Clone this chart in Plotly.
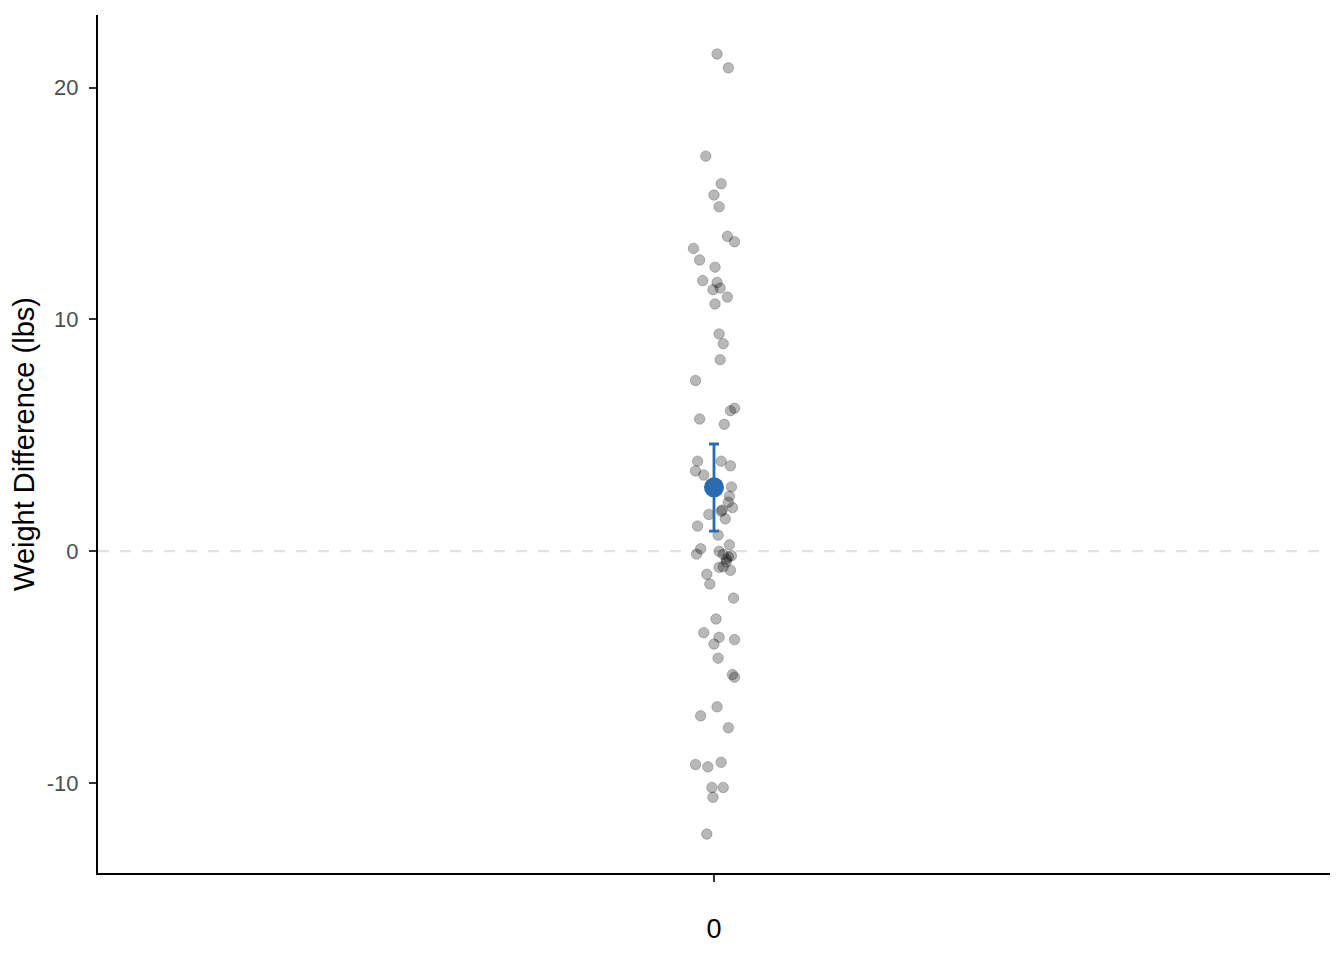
import plotly.graph_objects as go

# weight differences (lbs), with the horizontal jitter of each point
weight_diff = [
    21.45, 20.85, 17.04, 15.85, 15.36, 14.86, 13.58, 13.35, 13.06, 12.56,
    12.25, 11.67, 11.59, 11.35, 11.28, 10.96, 10.66, 9.37, 8.95, 8.26,
    7.36, 6.06, 6.16, 5.70, 5.47, 3.88, 3.88, 3.68, 3.46, 3.28,
    2.77, 2.37, 2.11, 1.88, 1.77, 1.72, 1.58, 1.39, 1.08, 0.69,
    0.27, 0.10, -0.13, -0.01, -0.14, -0.25, -0.20, -0.35, -0.46, -0.70,
    -0.68, -0.83, -1.00, -1.42, -2.03, -2.93, -3.52, -3.72, -4.01, -3.82,
    -4.62, -5.33, -5.44, -6.72, -7.11, -7.62, -9.21, -9.31, -9.11, -10.20,
    -10.20, -10.62, -12.21,
]
jitter = [
    0.003, 0.014, -0.008, 0.007, 0.000, 0.005, 0.013, 0.020, -0.020, -0.014,
    0.001, -0.011, 0.003, 0.006, -0.001, 0.013, 0.001, 0.005, 0.009, 0.006,
    -0.018, 0.016, 0.020, -0.014, 0.010, -0.016, 0.007, 0.016, -0.018, -0.010,
    0.017, 0.015, 0.014, 0.018, 0.008, 0.007, -0.005, 0.011, -0.016, 0.004,
    0.015, -0.013, -0.017, 0.005, 0.009, 0.014, 0.017, 0.012, 0.012, 0.005,
    0.009, 0.016, -0.007, -0.004, 0.019, 0.002, -0.010, 0.005, 0.000, 0.020,
    0.004, 0.018, 0.020, 0.003, -0.013, 0.014, -0.018, -0.006, 0.007, -0.002,
    0.009, -0.001, -0.007,
]

group = [0]
mean_diff = [2.75]
ci_low = [0.86]
ci_high = [4.62]

y_ticks = [-10, 0, 10, 20]
y_tick_labels = ["-10", "0", "10", "20"]

blue = "#2b6cb0"

fig = go.Figure()

fig.add_hline(y=0, line=dict(color="#e3e3e3", width=2.2, dash="11px,11px"), layer="below")

fig.add_trace(go.Scatter(
    x=[group[0] + j for j in jitter], y=weight_diff,
    mode="markers",
    marker=dict(size=10.5, color="rgba(0,0,0,0.28)",
                line=dict(color="rgba(0,0,0,0.22)", width=1)),
    hoverinfo="y", showlegend=False,
))

fig.add_trace(go.Scatter(
    x=group, y=mean_diff,
    mode="markers",
    marker=dict(size=20, color=blue),
    error_y=dict(type="data", symmetric=False,
                 array=[h - m for h, m in zip(ci_high, mean_diff)],
                 arrayminus=[m - l for m, l in zip(mean_diff, ci_low)],
                 color=blue, thickness=2.8, width=5),
    showlegend=False,
))

# page body adds an 8px offset, so the figure is a bit smaller than the window
fig.update_layout(
    width=1328, height=944,
    margin=dict(l=88, r=6, t=7, b=79),
    plot_bgcolor="white", paper_bgcolor="white",
    font=dict(family="Liberation Sans, Arial, sans-serif", color="black"),
)

fig.update_xaxes(
    range=[-0.6, 0.6], tickvals=group, ticktext=[str(g) for g in group],
    showgrid=False, zeroline=False,
    showline=True, linecolor="black", linewidth=2,
    ticks="outside", ticklen=7, tickwidth=2, tickcolor="#333333",
    tickfont=dict(size=27, color="black"), ticklabelstandoff=24,
)

fig.update_yaxes(
    range=[-13.89, 23.13], tickvals=y_ticks, ticktext=y_tick_labels,
    showgrid=False, zeroline=False,
    showline=True, linecolor="black", linewidth=2,
    ticks="outside", ticklen=7, tickwidth=2, tickcolor="#333333",
    tickfont=dict(size=22, color="#4d4d4d"), ticklabelstandoff=6,
    title=dict(text="Weight Difference (lbs)", font=dict(size=29, color="black"), standoff=13),
)

fig.write_html("out.html")
